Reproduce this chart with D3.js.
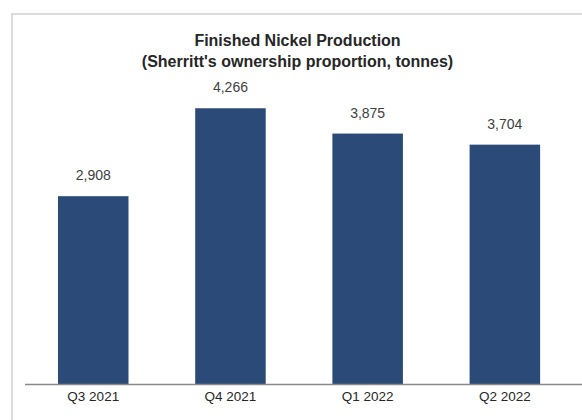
<!DOCTYPE html>
<html>
<head>
<meta charset="utf-8">
<script src="https://cdn.jsdelivr.net/npm/d3@7"></script>
<style>
  body { margin: 0; background: #fff; }
  svg { display: block; font-family: "Liberation Sans", Arial, sans-serif; }
</style>
</head>
<body>
<div id="chart"></div>
<script>
// data
const quarters = ["Q3 2021", "Q4 2021", "Q1 2022", "Q2 2022"];
const nickel = [2908, 4266, 3875, 3704];
const titleLines = ["Finished Nickel Production", "(Sherritt's ownership proportion, tonnes)"];

const width = 582;
const height = 420;
const baseline = 384.5;

const svg = d3.select("#chart")
  .append("svg")
    .attr("width", width)
    .attr("height", height);

// frame border (top + left only, the chart is cropped on the right)
svg.append("path")
  .attr("d", `M12,${height} V14 H${width}`)
  .attr("fill", "none")
  .attr("stroke", "#dcdcdc")
  .attr("stroke-width", 2);

// band range runs past the right edge on purpose
const xScale = d3.scaleBand()
  .domain(quarters)
  .range([-8.7, 606.8])
  .paddingInner(0.486)
  .paddingOuter(0.486);

const yScale = d3.scaleLinear()
  .domain([0, 4500])
  .range([baseline, 93.1]);

// bars
svg.selectAll("rect.bar")
  .data(quarters)
  .join("rect")
    .attr("class", "bar")
    .attr("x", d => xScale(d))
    .attr("y", (d, i) => yScale(nickel[i]))
    .attr("width", xScale.bandwidth())
    .attr("height", (d, i) => baseline - yScale(nickel[i]))
    .attr("fill", "#2c4a77");

// value labels
svg.selectAll("text.value")
  .data(quarters)
  .join("text")
    .attr("class", "value")
    .attr("x", d => xScale(d) + xScale.bandwidth() / 2)
    .attr("y", (d, i) => yScale(nickel[i]) - 16)
    .attr("text-anchor", "middle")
    .attr("font-size", 14)
    .attr("fill", "#404040")
    .text((d, i) => d3.format(",")(nickel[i]));

// x axis
const xAxis = d3.axisBottom(xScale).tickSize(0).tickPadding(7);
const axisG = svg.append("g")
  .attr("transform", `translate(0, ${baseline})`)
  .call(xAxis);
axisG.select(".domain").remove();
axisG.selectAll("text")
  .attr("font-size", 13.5)
  .attr("font-family", "Liberation Sans, Arial, sans-serif")
  .attr("fill", "#262626");

svg.append("line")
  .attr("x1", 25)
  .attr("x2", width)
  .attr("y1", baseline)
  .attr("y2", baseline)
  .attr("stroke", "#8a8a8a")
  .attr("stroke-width", 1.5);

// title
svg.selectAll("text.title")
  .data(titleLines)
  .join("text")
    .attr("class", "title")
    .attr("x", 297.5)
    .attr("y", (d, i) => 46 + i * 20.5)
    .attr("text-anchor", "middle")
    .attr("font-size", 16)
    .attr("font-weight", "bold")
    .attr("fill", "#262626")
    .text(d => d);
</script>
</body>
</html>
